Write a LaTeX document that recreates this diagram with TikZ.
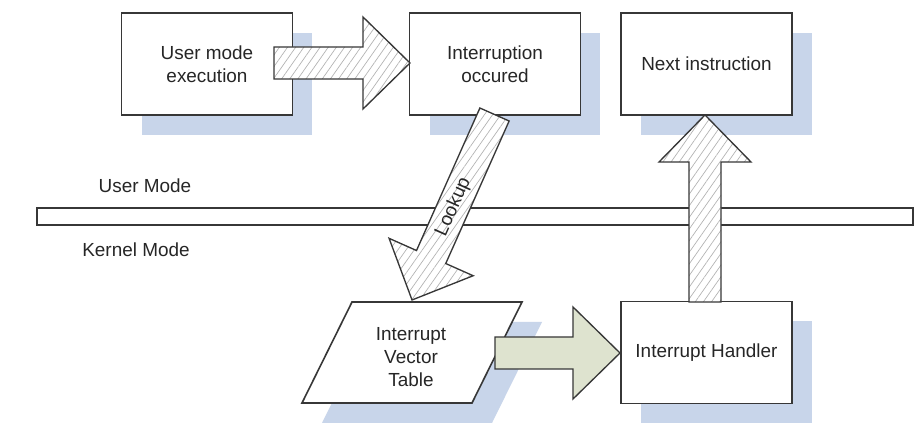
\documentclass[tikz,border=0pt]{standalone}
\usepackage{fontspec}
\setmainfont{Liberation Sans}
\usetikzlibrary{patterns.meta,shadows}
\definecolor{shadowc}{RGB}{200,213,234}
\definecolor{linec}{RGB}{55,55,55}
\definecolor{greenarrow}{RGB}{222,227,207}
\newcommand\blockarrow[5]{%
\begin{scope}[shift={(#1,#2)},rotate=#3]
\draw[#5] (0,-16) -- ({#4-47},-16) -- ({#4-47},-46) -- (#4,0) -- ({#4-47},46) -- ({#4-47},16) -- (0,16) -- cycle;
\end{scope}}
\begin{document}
\begin{tikzpicture}[x=0.75pt,y=-0.75pt,
  every node/.style={font=\fontsize{14.2}{17}\selectfont, text=black!85},
  box/.style={draw=linec, line width=1.2pt, fill=white, minimum width=128pt, minimum height=76.5pt, align=center,
     general shadow={fill=shadowc, shadow xshift=15pt, shadow yshift=-15pt}},
  hatched/.style={draw=linec, line width=1pt, preaction={fill=white},
     pattern={Lines[angle=55,distance=5pt,line width=0.5pt]}, pattern color=gray!60, line join=miter},
  solidarrow/.style={draw=linec, line width=1pt, fill=greenarrow, line join=miter},
  lbl/.style={inner sep=0pt}]
\useasboundingbox (0,0) rectangle (924,423);
\fill[white] (0,0) rectangle (924,423);
% nodes
\node[box] (b1) at (207,64) {User mode\\execution};
\node[box] (b2) at (495,64) {Interruption\\occured};
\node[box] (b3) at (706.5,64) {Next instruction};
\node[box] (b4) at (706.5,352.5) {Interrupt Handler};
% parallelogram with shadow
\fill[shadowc] (372,322) -- (542,322) -- (492,423) -- (322,423) -- cycle;
\draw[linec, line width=1.2pt, fill=white] (352,302) -- (522,302) -- (472,403) -- (302,403) -- cycle;
\node[align=center] (ivt) at (411,357) {Interrupt\\Vector\\Table};
% mode band
\draw[linec, line width=1.2pt, fill=white] (37,208) rectangle (913,225);
\node[lbl] (um) at (145,186) {User Mode};
\node[lbl] (km) at (136,250) {Kernel Mode};
% block arrows
\blockarrow{274}{63}{0}{136}{hatched}
\blockarrow{494.5}{114.5}{246.03}{203}{hatched}
\blockarrow{705}{302}{90}{187}{hatched}
\blockarrow{495}{353}{0}{125}{solidarrow}
\node[rotate=66.03, inner sep=0pt] (lk) at (453.4,207) {Lookup};
\end{tikzpicture}
\end{document}
